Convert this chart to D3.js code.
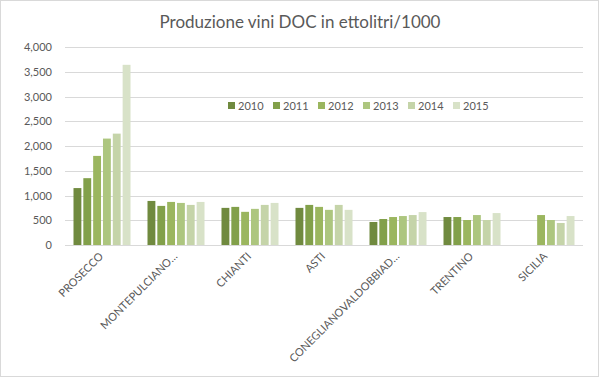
<!DOCTYPE html>
<html><head><meta charset="utf-8">
<script src="https://cdn.jsdelivr.net/npm/d3@7"></script>
<style>body{margin:0;background:#fff}svg{display:block}text{font-family:Lato,"Open Sans",sans-serif}</style>
</head><body><svg id="c" width="600" height="378"></svg>
<script>
const categories = ["PROSECCO","MONTEPULCIANO…","CHIANTI","ASTI","CONEGLIANOVALDOBBIAD…","TRENTINO","SICILIA"];
const years = ["2010","2011","2012","2013","2014","2015"];
const v2010 = [1150, 890, 750, 750, 465, 565, null];
const v2011 = [1350, 790, 770, 810, 525, 565, null];
const v2012 = [1800, 870, 670, 770, 565, 505, 605];
const v2013 = [2150, 850, 730, 710, 585, 605, 505];
const v2014 = [2250, 810, 810, 810, 605, 505, 445];
const v2015 = [3640, 870, 850, 710, 665, 645, 585];
const yTicks = [0,500,1000,1500,2000,2500,3000,3500,4000];
const colors = ["#708a3f","#82a04a","#9bb65f","#adc67f","#c5d4a9","#d8e2c8"];
const series = [v2010,v2011,v2012,v2013,v2014,v2015];

const svg = d3.select("#c");
svg.append("rect").attr("x",0.5).attr("y",0.5).attr("width",598).attr("height",376)
  .attr("fill","#fff").attr("stroke","#d9d9d9");

const L=65,R=583,T=47,B=245;
const y = d3.scaleLinear().domain([0,4000]).range([B,T]);
const x0 = d3.scaleBand().domain(categories).range([L,R]);
const x1 = d3.scaleBand().domain(years).range([8.5, x0.bandwidth()-8.5]).paddingInner(0.2);
const color = d3.scaleOrdinal().domain(years).range(colors);

svg.append("text").attr("x",300).attr("y",28).attr("text-anchor","middle")
  .attr("font-size",17).attr("fill","#595959").text("Produzione vini DOC in ettolitri/1000");

// grid
svg.append("g").selectAll("line").data(yTicks).join("line")
  .attr("x1",L).attr("x2",R).attr("y1",d=>Math.round(y(d))+0.5).attr("y2",d=>Math.round(y(d))+0.5)
  .attr("stroke","#d9d9d9").attr("stroke-width",1);

// y labels
const yAxis = d3.axisLeft(y).tickValues(yTicks).tickFormat(d3.format(",")).tickSize(0).tickPadding(0);
const gy = svg.append("g").attr("transform",`translate(52,0)`).call(yAxis);
gy.select(".domain").remove();
gy.selectAll("text").attr("font-size",11).attr("fill","#595959").attr("font-family","Lato,'Open Sans',sans-serif");

// bars
const data = categories.map((c,i)=>({c, vals: years.map((yr,j)=>({yr, v: series[j][i]}))}));
svg.append("g").selectAll("g").data(data).join("g")
  .attr("transform",d=>`translate(${x0(d.c)},0)`)
  .selectAll("rect").data(d=>d.vals.filter(e=>e.v!=null)).join("rect")
  .attr("x",d=>x1(d.yr)).attr("width",x1.bandwidth())
  .attr("y",d=>y(d.v)).attr("height",d=>B-y(d.v)).attr("fill",d=>color(d.yr));

// x labels
svg.append("g").selectAll("text").data(categories).join("text")
  .attr("transform",d=>`translate(${x0(d)+x0.bandwidth()/2+2},${B+12}) rotate(-45)`)
  .attr("text-anchor","end").attr("font-size",11).attr("fill","#595959").text(d=>d);

// legend
const lg = svg.append("g").selectAll("g").data(years).join("g")
  .attr("transform",(d,i)=>`translate(${228+i*45},106)`);
lg.append("rect").attr("x",0).attr("y",-4).attr("width",7).attr("height",7).attr("fill",d=>color(d));
lg.append("text").attr("x",10).attr("y",4).attr("font-size",11).attr("fill","#595959").text(d=>d);
</script></body></html>
